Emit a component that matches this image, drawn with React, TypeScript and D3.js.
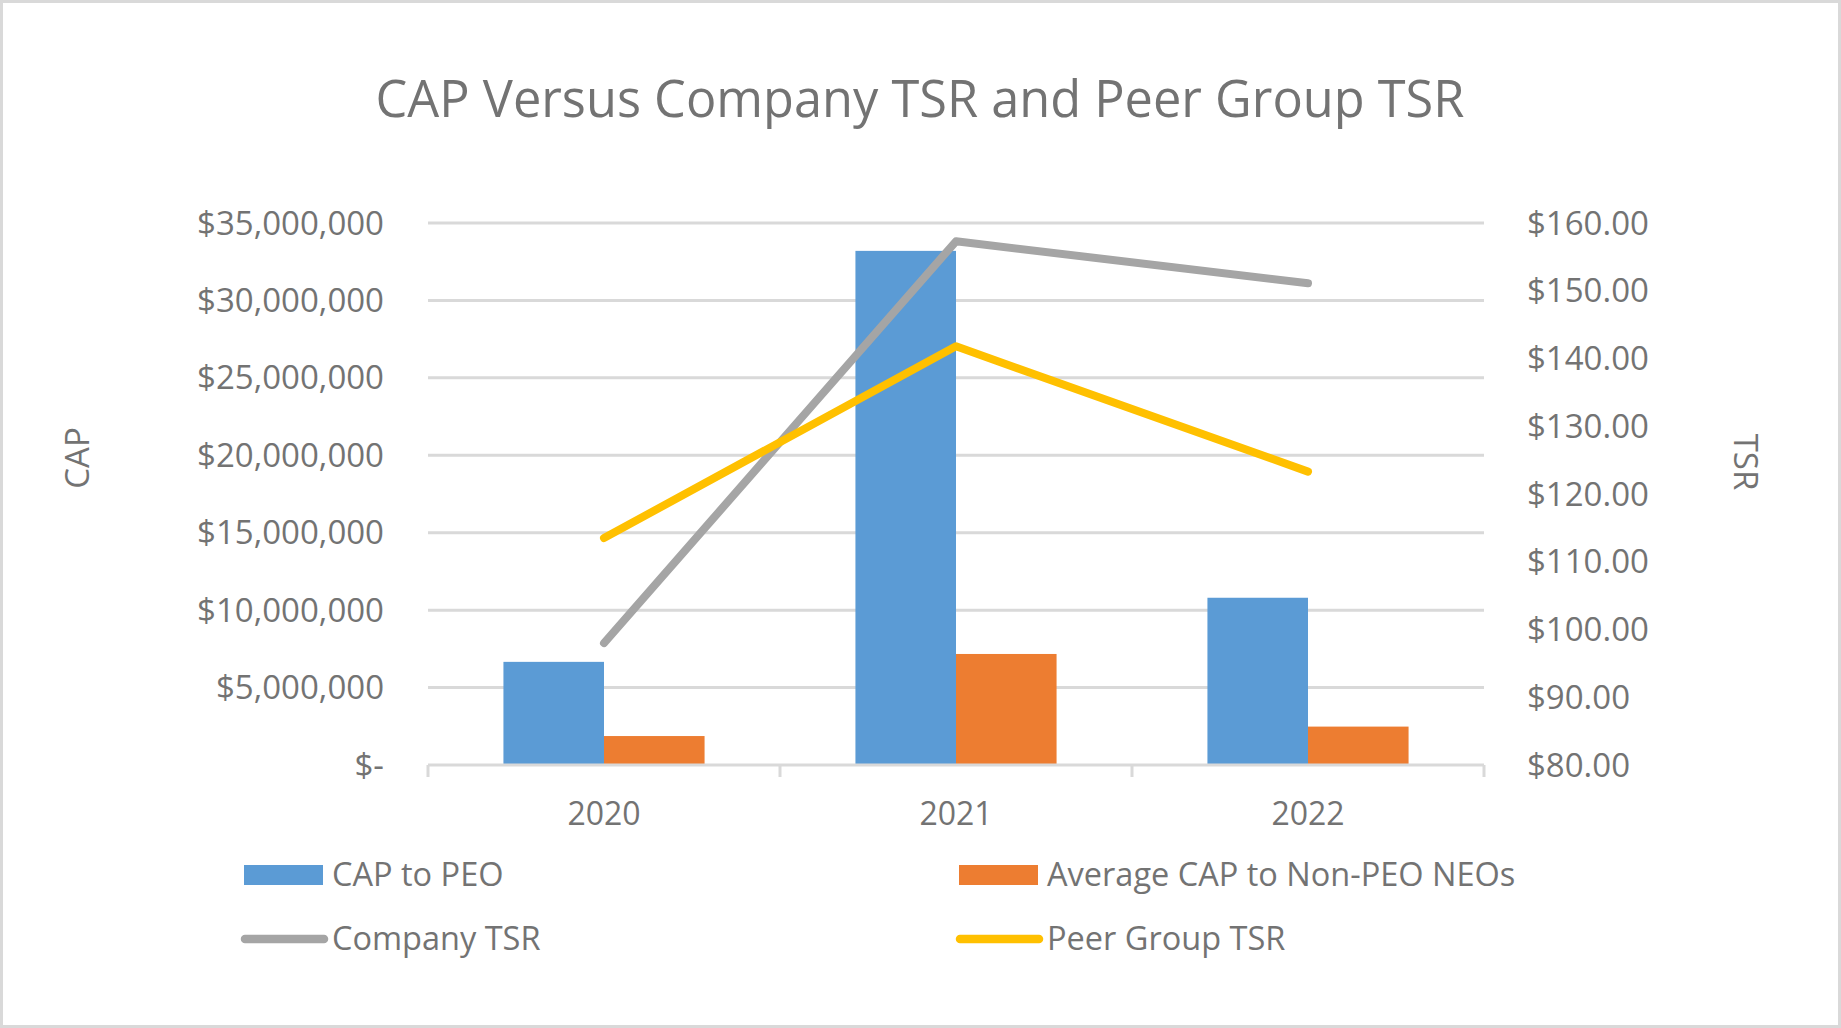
import * as d3 from "d3";

const years = ["2020", "2021", "2022"];
const capToPeo = [6660000, 33200000, 10800000];
const avgCapNonPeo = [1870000, 7170000, 2480000];
const companyTsr = [98.0, 157.3, 151.1];
const peerTsr = [113.5, 141.8, 123.3];
const capTicks = [0, 5000000, 10000000, 15000000, 20000000, 25000000, 30000000, 35000000];
const tsrTicks = [80, 90, 100, 110, 120, 130, 140, 150, 160];

const W = 1841;
const H = 1028;
const plot = { left: 428, right: 1484, top: 223, bottom: 765 };

const textColor = "#737373";
const gridColor = "#D9D9D9";
const font = "'Open Sans', 'Noto Sans', sans-serif";

const barSeries = [
  { name: "CAP to PEO", values: capToPeo, color: "#5B9BD5" },
  { name: "Average CAP to Non-PEO NEOs", values: avgCapNonPeo, color: "#ED7D31" },
];
const lineSeries = [
  { name: "Company TSR", values: companyTsr, color: "#A5A5A5" },
  { name: "Peer Group TSR", values: peerTsr, color: "#FFC000" },
];

const capFmt = (v: number) => (v === 0 ? "$-" : "$" + d3.format(",")(v));
const tsrFmt = (v: number) => "$" + v.toFixed(2);

export default function App() {
  const x0 = d3.scaleBand<string>()
    .domain(years)
    .range([plot.left, plot.right])
    .paddingInner(0.4286)
    .paddingOuter(0.2143);
  const x1 = d3.scaleBand<string>()
    .domain(barSeries.map(s => s.name))
    .range([0, x0.bandwidth()]);
  const yCap = d3.scaleLinear().domain([0, 35000000]).range([plot.bottom, plot.top]);
  const yTsr = d3.scaleLinear().domain([80, 160]).range([plot.bottom, plot.top]);

  const step = x0.step();
  const cx = (y: string) => (x0(y) as number) + x0.bandwidth() / 2;

  const line = d3.line<number>()
    .x((_, i) => cx(years[i]))
    .y(d => yTsr(d));

  const categoryEdges = [0, 1, 2, 3].map(i => plot.left + i * step);

  const legend = [
    { name: barSeries[0].name, color: barSeries[0].color, kind: "bar", x: 244, y: 875 },
    { name: barSeries[1].name, color: barSeries[1].color, kind: "bar", x: 959, y: 875 },
    { name: lineSeries[0].name, color: lineSeries[0].color, kind: "line", x: 244, y: 939 },
    { name: lineSeries[1].name, color: lineSeries[1].color, kind: "line", x: 959, y: 939 },
  ];

  return (
    <div style={{ position: "fixed", left: 0, top: 0 }}>
      <svg width={W} height={H} style={{ display: "block", background: "#fff" }} fontFamily={font}>
        <rect x={1.5} y={1.5} width={W - 3} height={H - 3} fill="#fff" stroke={gridColor} strokeWidth={3} />

        <text x={920} y={117} textAnchor="middle" fontSize={50.5} fill={textColor}>
          CAP Versus Company TSR and Peer Group TSR
        </text>

        {/* gridlines */}
        {capTicks.slice(1).map(t => (
          <line key={t} x1={plot.left} x2={plot.right} y1={yCap(t)} y2={yCap(t)} stroke={gridColor} strokeWidth={3} />
        ))}

        {/* bars */}
        {years.map((yr, i) => (
          <g key={yr} transform={`translate(${x0(yr)},0)`}>
            {barSeries.map(s => (
              <rect
                key={s.name}
                x={x1(s.name)}
                y={yCap(s.values[i])}
                width={x1.bandwidth()}
                height={plot.bottom - yCap(s.values[i])}
                fill={s.color}
              />
            ))}
          </g>
        ))}

        {/* x axis */}
        <line x1={plot.left} x2={plot.right} y1={plot.bottom} y2={plot.bottom} stroke={gridColor} strokeWidth={3} />
        {categoryEdges.map(x => (
          <line key={x} x1={x} x2={x} y1={plot.bottom} y2={plot.bottom + 12} stroke={gridColor} strokeWidth={3} />
        ))}
        {years.map(yr => (
          <text key={yr} x={cx(yr)} y={825} textAnchor="middle" fontSize={32} fill={textColor}>{yr}</text>
        ))}

        {/* lines */}
        {lineSeries.map(s => (
          <path key={s.name} d={line(s.values) as string} fill="none" stroke={s.color}
            strokeWidth={8} strokeLinecap="round" strokeLinejoin="round" />
        ))}

        {/* left axis labels */}
        {capTicks.map(t => (
          <text key={t} x={384} y={yCap(t)} dy="0.35em" textAnchor="end" fontSize={33} fill={textColor}>{capFmt(t)}</text>
        ))}
        {/* right axis labels */}
        {tsrTicks.map(t => (
          <text key={t} x={1527} y={yTsr(t)} dy="0.35em" textAnchor="start" fontSize={33} fill={textColor}>{tsrFmt(t)}</text>
        ))}

        <text transform="translate(77.5,458) rotate(-90)" textAnchor="middle" dy="0.35em" fontSize={33} fill={textColor}>CAP</text>
        <text transform="translate(1746,462) rotate(90)" textAnchor="middle" dy="0.35em" fontSize={33} fill={textColor}>TSR</text>

        {/* legend */}
        {legend.map(l => (
          <g key={l.name}>
            {l.kind === "bar" ? (
              <rect x={l.x} y={l.y - 10} width={79} height={20} fill={l.color} />
            ) : (
              <line x1={l.x + 1} x2={l.x + 80} y1={l.y} y2={l.y} stroke={l.color} strokeWidth={8.5} strokeLinecap="round" />
            )}
            <text x={l.x + 88} y={l.y} dy="0.35em" fontSize={32.5} fill={textColor}>{l.name}</text>
          </g>
        ))}
      </svg>
    </div>
  );
}
